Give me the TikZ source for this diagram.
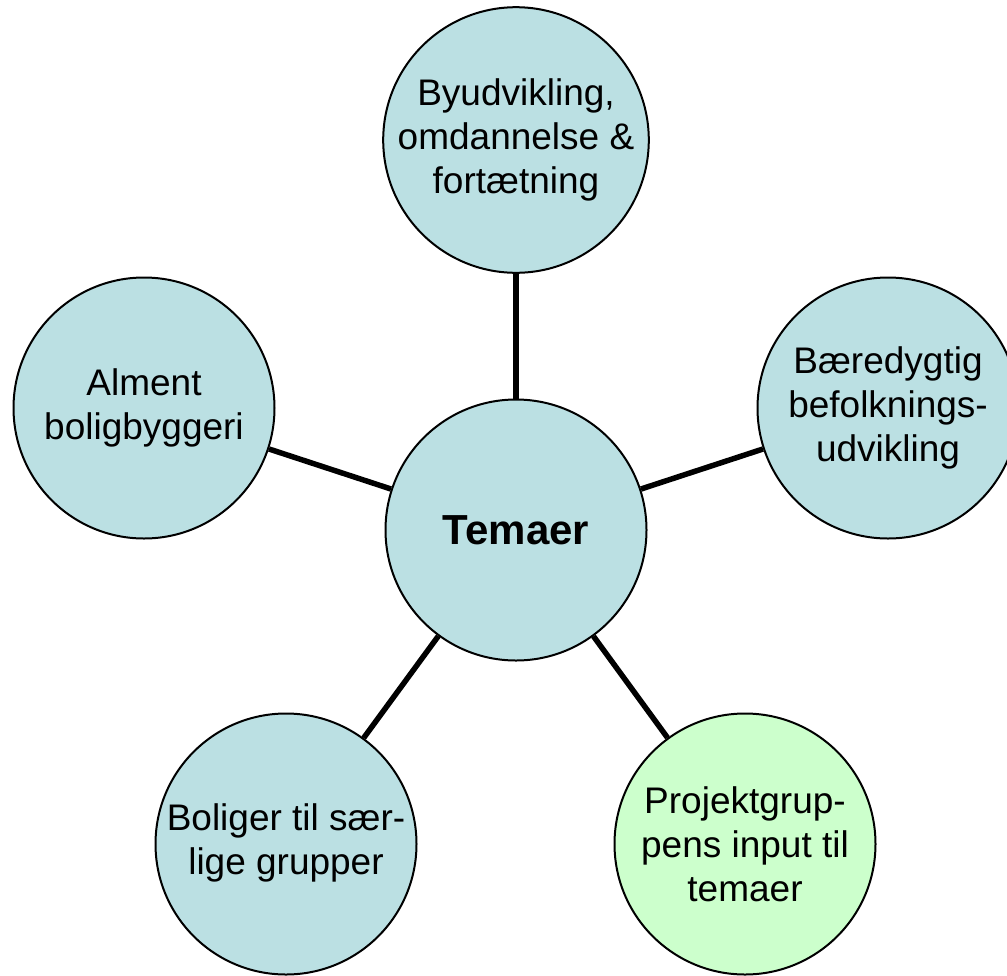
\documentclass[tikz,border=0pt]{standalone}
\usepackage{fontspec}
\setmainfont{Liberation Sans}
\definecolor{themeblue}{HTML}{BBE0E3}
\definecolor{themegreen}{HTML}{CCFFCC}
\begin{document}
\begin{tikzpicture}[x=1pt,y=-1pt,
  bubble/.style={circle,draw=black,line width=2pt,fill=themeblue,minimum size=261pt,inner sep=0pt,
    align=center,font=\fontsize{37}{44}\selectfont},
  hub/.style={bubble,font=\fontsize{42}{48}\selectfont\bfseries},
  link/.style={line width=5.5pt,draw=black}]
\useasboundingbox (0,0) rectangle (1007,975);
\clip (0,0) rectangle (1007,975);
\node[hub] (c) at (516,530) {Temaer};
\node[bubble] (t) at (516,140) {Byudvikling,\\omdannelse \&\\fortætning};
\node[bubble] (l) at (144,408) {Alment\\boligbyggeri};
\node[bubble] (r) at (888,408) {Bæredygtig\\befolknings-\\udvikling};
\node[bubble] (bl) at (286,844) {\raisebox{-8pt}{\begin{tabular}{@{}c@{}}Boliger til sær-\\lige grupper\end{tabular}}};
\node[bubble,fill=themegreen] (br) at (745,844) {Projektgrup-\\pens input til\\temaer};
\draw[link] (c) -- (t);
\draw[link] (c) -- (l);
\draw[link] (c) -- (r);
\draw[link] (c) -- (bl);
\draw[link] (c) -- (br);
\end{tikzpicture}
\end{document}
